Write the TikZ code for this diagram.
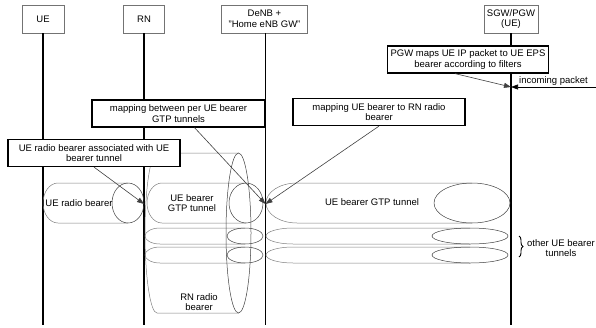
\documentclass[tikz,border=0pt]{standalone}
\usepackage{fontspec}
\setmainfont{Liberation Sans}
\usetikzlibrary{positioning,calc,arrows.meta,decorations.pathreplacing}
\tikzset{>={Triangle[length=7pt,width=5pt]},
hd/.style={rectangle,draw=black!55,line width=0.6pt,minimum height=28pt,align=center,inner sep=1mm},
nt/.style={rectangle,draw,fill=white,line width=1.2pt,minimum height=27pt,align=center,inner sep=1mm},
ll/.style={line width=1.2pt},
ar/.style={->,draw=black!75,line width=0.6pt},
tb/.style={draw=black!50,line width=0.5pt},
te/.style={draw=black!75,line width=0.5pt},
el/.style={inner sep=0.5mm},
}
\newcommand{\bearertube}[6]{%
\draw[tb] (#2,#3-#6) -- (#1+#4,#3-#6) arc[start angle=270,end angle=90,x radius=#4,y radius=#6] -- (#2,#3+#6);
\draw[te] (#2,#3) ellipse[x radius=#5,y radius=#6];}

\begin{document}
\begin{tikzpicture}[x=1pt,y=-1pt,font=\fontsize{9.5}{10.5}\selectfont]
\useasboundingbox (0,0) rectangle (596,327);
\node[hd,minimum width=42pt] (ue) at (43,19) {UE};
\node[hd,minimum width=41pt] (rn) at (144,19) {RN};
\node[hd,minimum width=86pt] (denb) at (264.5,19) {DeNB +\\"Home eNB GW"};
\node[hd,minimum width=53pt] (sgw) at (511,19) {SGW/PGW\\(UE)};

\coordinate (ueend) at (43,325);
\coordinate (rnend) at (144,325);
\coordinate (denbend) at (265.5,325);
\coordinate (sgwend) at (511,325);
\draw[ll] (ue) -- (ueend);
\draw[ll] (rn) -- (rnend);
\draw[ll] (denb.south -| denbend) -- (denbend);
\draw[ll] (sgw) -- (sgwend);

\bearertube{43}{128}{203}{15}{16}{20}
\bearertube{147}{246}{203}{15}{17}{20}
\bearertube{266}{472}{203}{31}{38}{20}
\bearertube{145}{245}{236}{15}{18}{8}
\bearertube{145}{245}{255}{15}{18}{8}
\bearertube{266}{470}{236}{27}{38}{8}
\bearertube{266}{470}{255}{27}{38}{8}
\bearertube{145}{238.5}{233}{12}{12.5}{80}

\node (uerbtxt) at (79,203) {UE radio bearer};
\node[align=center] (gtptxt) at (192,203) {UE bearer\\GTP tunnel};
\node (gtplong) at (372,202) {UE bearer GTP tunnel};
\node[align=center] (rnrbtxt) at (199,302) {RN radio\\bearer};

\node[nt,minimum width=160pt] (pgw) at (468,59.5) {PGW maps UE IP packet to UE EPS\\bearer according to filters};
\node[nt,minimum width=173pt] (mapgtp) at (178.5,113.5) {mapping between per UE bearer\\GTP tunnels};
\node[nt,minimum width=172pt] (maprb) at (379,112) {mapping UE bearer to RN radio\\bearer};
\node[nt,minimum width=172pt] (uerb) at (94,153) {UE radio bearer associated with UE\\bearer tunnel};

\coordinate (rnin) at (144,204);
\coordinate (denbin) at (265.5,204);
\coordinate (sgwin) at (511,87);
\coordinate (inpkt) at (596,87);
\coordinate (brtop) at (519,236);
\coordinate (brbot) at (519,257);

\path
($(pgw.south)+(-13,0)$) edge[ar] (sgwin)
(inpkt) edge[ar,draw=black] node[el,above] {incoming packet} (sgwin)
($(mapgtp.south)+(16,0)$) edge[ar] (denbin)
(maprb.south) edge[ar] (denbin)
(uerb.south) edge[ar] (rnin)
;
\draw[decorate,decoration={brace,amplitude=4pt},line width=0.9pt] (brtop) -- (brbot);
\node[align=center,inner sep=0pt] (othertxt) at (561,248) {other UE bearer\\tunnels};
\end{tikzpicture}
\end{document}
